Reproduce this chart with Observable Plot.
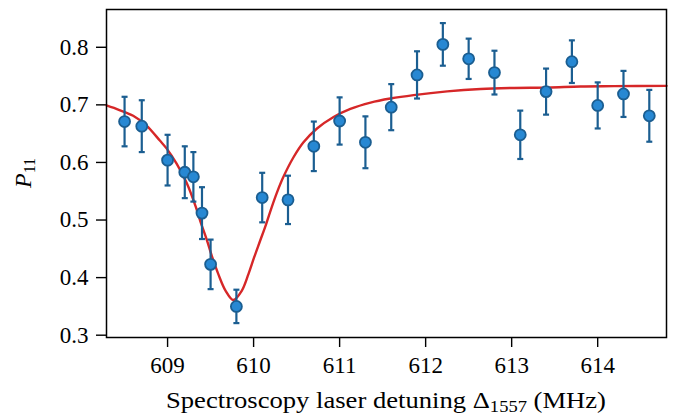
<!DOCTYPE html>
<html><head><meta charset="utf-8">
<script src="https://cdn.jsdelivr.net/npm/d3@7"></script>
<script src="https://cdn.jsdelivr.net/npm/@observablehq/plot@0.6"></script>
<style>body{margin:0;background:#fff} svg{display:block}</style>
</head><body><div id="chart"></div>
<script>
const detuning = [608.5, 608.7, 609.0, 609.2, 609.3, 609.4, 609.5, 609.8, 610.1, 610.4, 610.7, 611.0, 611.3, 611.6, 611.9, 612.2, 612.5, 612.8, 613.1, 613.4, 613.7, 614.0, 614.3, 614.6];
const p11 = [0.671, 0.663, 0.604, 0.583, 0.575, 0.512, 0.423, 0.350, 0.539, 0.535, 0.628, 0.672, 0.635, 0.696, 0.752, 0.805, 0.780, 0.756, 0.648, 0.723, 0.775, 0.699, 0.719, 0.681];
const p11Err = [0.043, 0.045, 0.044, 0.045, 0.043, 0.045, 0.043, 0.029, 0.043, 0.042, 0.043, 0.041, 0.045, 0.040, 0.041, 0.037, 0.035, 0.038, 0.042, 0.040, 0.037, 0.040, 0.040, 0.045];
const fitDetuning = [608.29, 608.44, 608.60, 608.755, 608.91, 608.99, 609.105, 609.22, 609.33, 609.385, 609.455, 609.52, 609.59, 609.675, 609.765, 609.862, 609.94, 610.006, 610.076, 610.146, 610.21, 610.28, 610.347, 610.464, 610.58, 610.737, 610.93, 611.125, 611.36, 611.59, 611.86, 612.25, 612.64, 613.03, 613.42, 613.8, 614.19, 614.8];
const fitP11 = [0.699, 0.691, 0.681, 0.664, 0.638, 0.624, 0.598, 0.565, 0.522, 0.496, 0.466, 0.435, 0.406, 0.377, 0.361, 0.377, 0.406, 0.435, 0.464, 0.493, 0.522, 0.551, 0.575, 0.609, 0.635, 0.659, 0.679, 0.693, 0.704, 0.711, 0.717, 0.7235, 0.7276, 0.7294, 0.730, 0.732, 0.7325, 0.733];
const xTicks = [609, 610, 611, 612, 613, 614];
const yTicks = [0.3, 0.4, 0.5, 0.6, 0.7, 0.8];

const points = detuning.map((x, i) => ({x, y: p11[i], lo: p11[i] - p11Err[i], hi: p11[i] + p11Err[i]}));
const fit = fitDetuning.map((x, i) => ({x, y: fitP11[i]}));
const capSymbol = {draw(ctx, size) { const r = Math.sqrt(size / Math.PI); ctx.moveTo(-r, 0); ctx.lineTo(r, 0); }};
const dark = "#1b5e91";

const chart = Plot.plot({
  width: 674, height: 420,
  marginLeft: 106, marginRight: 8, marginTop: 9, marginBottom: 83,
  style: {fontFamily: "'Liberation Serif', serif", fontSize: "23px", color: "black", background: "white"},
  x: {domain: [608.29, 614.8]},
  y: {domain: [0.296, 0.8656]},
  marks: [
    Plot.axisX({ticks: xTicks, tickSize: 10, tickPadding: 9, label: null, tickFormat: d => String(d), strokeWidth: 1.4}),
    Plot.axisY({ticks: yTicks, tickSize: 10, tickPadding: 8, label: null, tickFormat: d => d.toFixed(1), strokeWidth: 1.4}),
    Plot.line(fit, {x: "x", y: "y", stroke: "#d62728", strokeWidth: 2.4, curve: "catmull-rom"}),
    Plot.ruleX(points, {x: "x", y1: "lo", y2: "hi", stroke: dark, strokeWidth: 2.2}),
    Plot.dot(points, {x: "x", y: "lo", symbol: capSymbol, r: 3, fill: "none", stroke: dark, strokeWidth: 2.2}),
    Plot.dot(points, {x: "x", y: "hi", symbol: capSymbol, r: 3, fill: "none", stroke: dark, strokeWidth: 2.2}),
    Plot.dot(points, {x: "x", y: "y", r: 5.5, fill: "#2788d3", stroke: dark, strokeWidth: 1.8}),
    Plot.frame({stroke: "black", strokeWidth: 1.5})
  ]
});
document.getElementById("chart").appendChild(chart);

const svg = d3.select(chart);
const xl = svg.append("text")
  .attr("x", 386).attr("y", 408).attr("text-anchor", "middle")
  .attr("textLength", 440).attr("lengthAdjust", "spacingAndGlyphs")
  .attr("font-family", "'Liberation Serif', serif").attr("font-size", 23).attr("fill", "black");
xl.append("tspan").text("Spectroscopy laser detuning \u0394");
xl.append("tspan").attr("font-size", 16).attr("dy", 4).text("1557");
xl.append("tspan").attr("dy", -4).text(" (MHz)");

const yl = svg.append("text")
  .attr("transform", "translate(31,173) rotate(-90)").attr("text-anchor", "middle")
  .attr("font-family", "'Liberation Serif', serif").attr("font-size", 24).attr("fill", "black");
yl.append("tspan").attr("font-style", "italic").text("P");
yl.append("tspan").attr("font-size", 16).attr("dy", 4).text("11");
</script>
</body></html>
